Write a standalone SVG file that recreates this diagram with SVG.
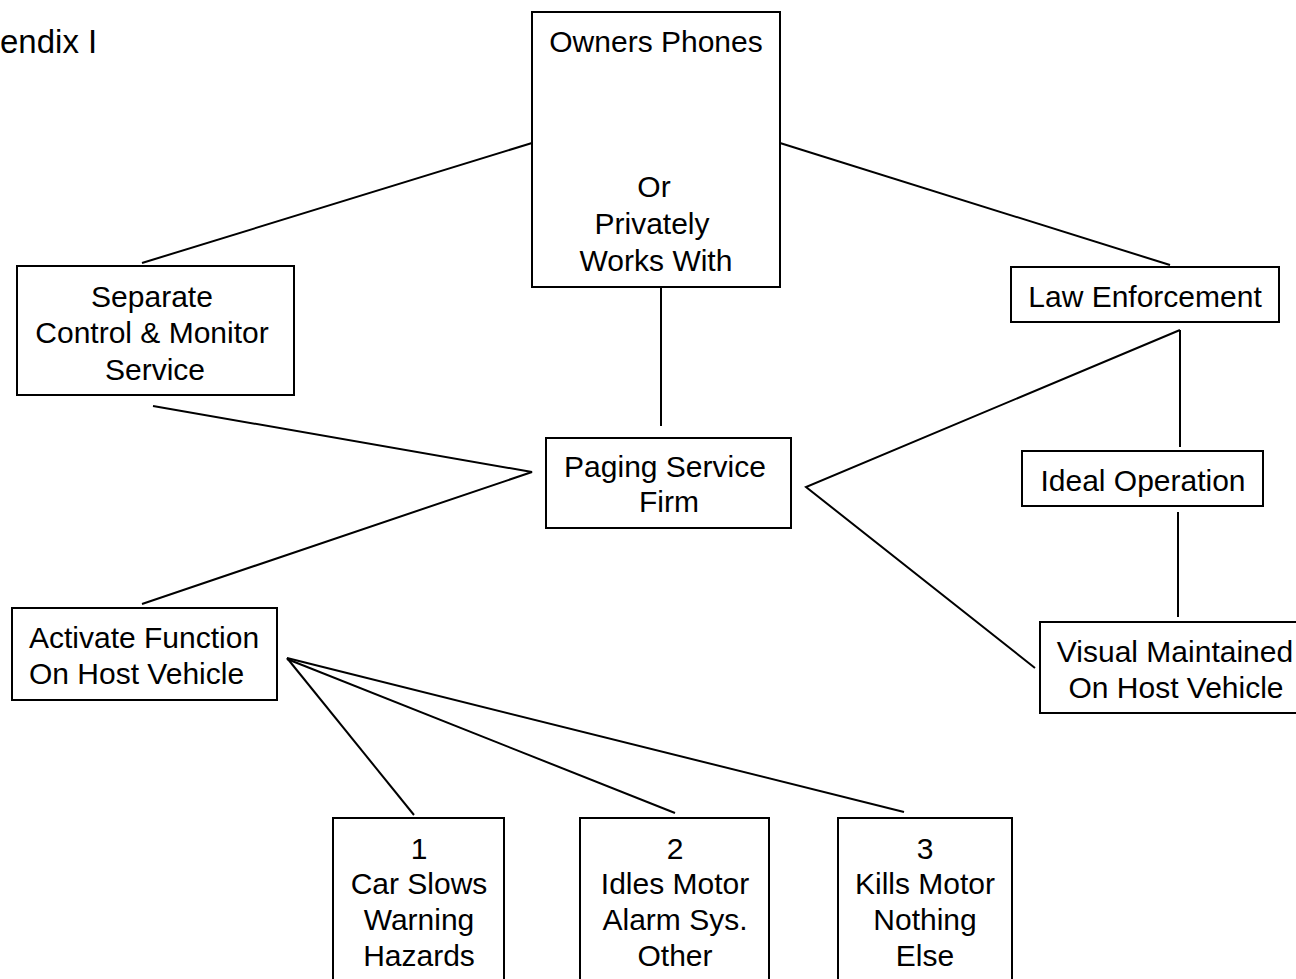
<svg xmlns="http://www.w3.org/2000/svg" width="1296" height="979" viewBox="0 0 1296 979">
<style>
.box{fill:#fff;stroke:#000;stroke-width:2}
.t{font-family:"Liberation Sans",Arial,sans-serif;font-size:30px;fill:#000;text-anchor:middle}
.l{text-anchor:start}
#connectors line,#connectors polyline{stroke:#000;stroke-width:2;fill:none}
</style>
<rect width="1296" height="979" fill="#fff"/>
<text class="t l" x="0" y="53" style="font-size:33px">endix I</text>
<g id="connectors">
<line x1="532" y1="143" x2="142" y2="263"/>
<line x1="780" y1="143" x2="1170" y2="265"/>
<line x1="661" y1="287" x2="661" y2="426"/>
<polyline points="153,406 532,472 142,604"/>
<polyline points="1180,330 806,487 1035,668"/>
<line x1="1180" y1="330" x2="1180" y2="447"/>
<line x1="1178" y1="512" x2="1178" y2="617"/>
<line x1="287" y1="658" x2="414" y2="815"/>
<line x1="287" y1="659" x2="675" y2="813"/>
<line x1="287" y1="658" x2="904" y2="812"/>
</g>
<g id="owners">
<rect class="box" x="532" y="12" width="248" height="275"/>
<text class="t" x="656" y="52">Owners Phones</text>
<text class="t" x="654" y="197">Or</text>
<text class="t" x="652" y="234">Privately</text>
<text class="t" x="656" y="271">Works With</text>
</g>
<g id="separate">
<rect class="box" x="17" y="266" width="277" height="129"/>
<text class="t" x="152" y="307">Separate</text>
<text class="t" x="152" y="343">Control &amp; Monitor</text>
<text class="t" x="155" y="380">Service</text>
</g>
<g id="law">
<rect class="box" x="1011" y="267" width="268" height="55"/>
<text class="t" x="1145" y="307">Law Enforcement</text>
</g>
<g id="paging">
<rect class="box" x="546" y="438" width="245" height="90"/>
<text class="t" x="665" y="477">Paging Service</text>
<text class="t" x="669" y="512">Firm</text>
</g>
<g id="ideal">
<rect class="box" x="1022" y="451" width="241" height="55"/>
<text class="t" x="1143" y="491">Ideal Operation</text>
</g>
<g id="activate">
<rect class="box" x="12" y="608" width="265" height="92"/>
<text class="t l" x="29" y="648">Activate Function</text>
<text class="t l" x="29" y="684">On Host Vehicle</text>
</g>
<g id="visual">
<rect class="box" x="1040" y="622" width="262" height="91"/>
<text class="t" x="1175" y="662">Visual Maintained</text>
<text class="t" x="1176" y="698">On Host Vehicle</text>
</g>
<g id="opt1">
<rect class="box" x="333" y="818" width="171" height="170"/>
<text class="t" x="419" y="859">1</text>
<text class="t" x="419" y="894">Car Slows</text>
<text class="t" x="419" y="930">Warning</text>
<text class="t" x="419" y="966">Hazards</text>
</g>
<g id="opt2">
<rect class="box" x="580" y="818" width="189" height="170"/>
<text class="t" x="675" y="859">2</text>
<text class="t" x="675" y="894">Idles Motor</text>
<text class="t" x="675" y="930">Alarm Sys.</text>
<text class="t" x="675" y="966">Other</text>
</g>
<g id="opt3">
<rect class="box" x="838" y="818" width="174" height="170"/>
<text class="t" x="925" y="859">3</text>
<text class="t" x="925" y="894">Kills Motor</text>
<text class="t" x="925" y="930">Nothing</text>
<text class="t" x="925" y="966">Else</text>
</g>
</svg>
